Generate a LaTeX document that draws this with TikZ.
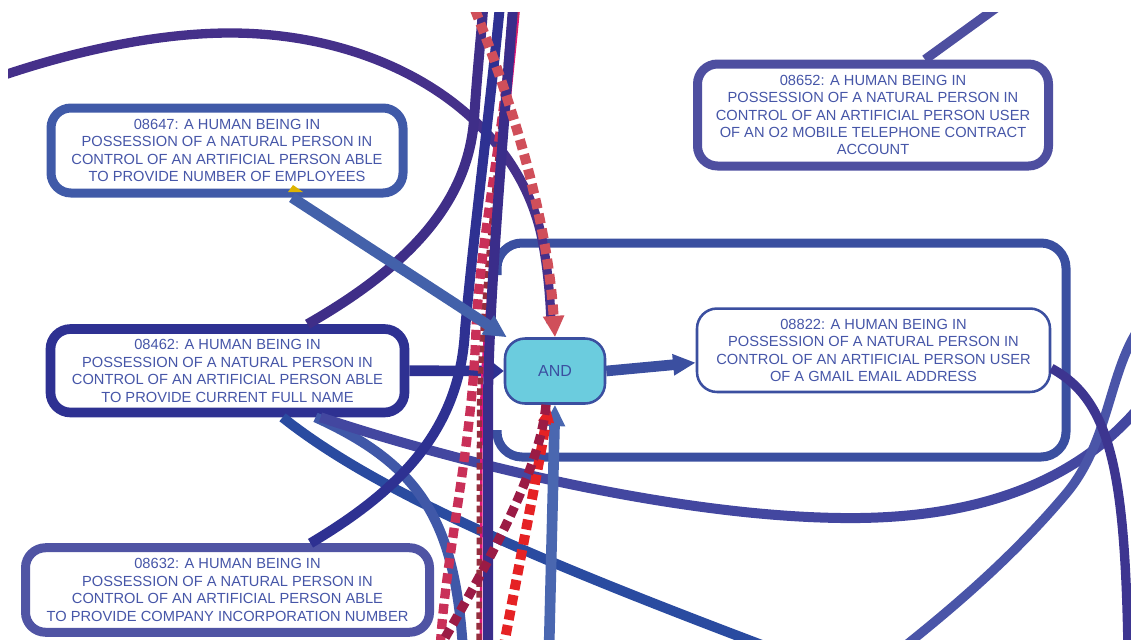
\documentclass[tikz,border=0pt]{standalone}
\usepackage{xcolor}
\usepackage{fontspec}
\setmainfont{Liberation Sans}
\usepackage{tikz}
\usetikzlibrary{arrows.meta,calc}

\begin{document}
\begin{tikzpicture}[x=0.75pt,y=0.75pt,yscale=-1,xscale=1,
  claimbox/.style={draw, fill=white, rounded corners=15pt, line width=6.75pt, inner sep=0pt, align=center,
    text={rgb, 255:red, 70; green, 86; blue, 168}, font=\fontsize{11}{13.1}\selectfont},
  link/.style={line width=7.5pt},
  dashlink/.style={line width=7.5pt, dash pattern={on 7.5pt off 4pt}}]
\useasboundingbox (0,0) rectangle (1131,639);
\clip (8,12) rectangle (1131,639);
%Group frame (open on the left)
\draw [color={rgb, 255:red, 58; green, 79; blue, 160 }, line width=6.75pt, rounded corners=18.75pt] (497,275) |- (1066,243) |- (497,457) -- (497,430) ;
% Claim nodes
\node [claimbox, draw={rgb, 255:red, 64; green, 90; blue, 168 }, minimum width=264pt, minimum height=63.75pt] (n08647) at (227,150.5) {08647: A HUMAN BEING IN\\POSSESSION OF A NATURAL PERSON IN\\CONTROL OF AN ARTIFICIAL PERSON ABLE\\TO PROVIDE NUMBER OF EMPLOYEES};
\node [claimbox, draw={rgb, 255:red, 46; green, 49; blue, 146 }, line width=7.25pt, minimum width=265.5pt, minimum height=62.6pt] (n08462) at (227.5,370.75) {08462: A HUMAN BEING IN\\POSSESSION OF A NATURAL PERSON IN\\CONTROL OF AN ARTIFICIAL PERSON ABLE\\TO PROVIDE CURRENT FULL NAME};
\node [claimbox, draw={rgb, 255:red, 80; green, 84; blue, 164 }, minimum width=303pt, minimum height=63.4pt] (n08632) at (227.5,590) {08632: A HUMAN BEING IN\\POSSESSION OF A NATURAL PERSON IN\\CONTROL OF AN ARTIFICIAL PERSON ABLE\\TO PROVIDE COMPANY INCORPORATION NUMBER};
\node [claimbox, draw={rgb, 255:red, 78; green, 79; blue, 160 }, minimum width=263.25pt, minimum height=76.5pt] (n08652) at (873,115) {08652: A HUMAN BEING IN\\POSSESSION OF A NATURAL PERSON IN\\CONTROL OF AN ARTIFICIAL PERSON USER\\OF AN O2 MOBILE TELEPHONE CONTRACT\\ACCOUNT};
\node [claimbox, draw={rgb, 255:red, 59; green, 79; blue, 160 }, line width=1.9pt, minimum width=264.75pt, minimum height=62.6pt] (n08822) at (873.5,350.25) {08822: A HUMAN BEING IN\\POSSESSION OF A NATURAL PERSON IN\\CONTROL OF AN ARTIFICIAL PERSON USER\\OF A GMAIL EMAIL ADDRESS};
% AND gate
\node [claimbox, fill={rgb, 255:red, 107; green, 204; blue, 222 }, draw={rgb, 255:red, 59; green, 79; blue, 160 }, line width=1.9pt, text={rgb, 255:red, 59; green, 79; blue, 160 }, font=\fontsize{12}{14}\selectfont, minimum width=75pt, minimum height=48.75pt] (and) at (555,371) {AND};
% Free ends at the border
\coordinate (farleft) at (-10,80);
\coordinate (topA) at (484,-5);
\coordinate (topB) at (501,-5);
\coordinate (topC) at (514,-5);
\coordinate (topD) at (469,-5);
\coordinate (topE) at (516,-5);
\coordinate (topF) at (520,-5);
\coordinate (topG) at (512,-5);
\coordinate (topQ) at (1014,-5);
\coordinate (botC) at (488,650);
\coordinate (botE) at (440,650);
\coordinate (botF) at (481,650);
\coordinate (botG) at (479,650);
\coordinate (botI) at (438,650);
\coordinate (botJ) at (549,650);
\coordinate (botK) at (503,650);
\coordinate (botL) at (775,650);
\coordinate (botM) at (463,650);
\coordinate (botO) at (1128,650);
\coordinate (botP) at (900,650);
\coordinate (rightN) at (1145,400);
\coordinate (rightP) at (1145,320);
% Lines out of 08462 bottom
\draw [link, color={rgb, 255:red, 42; green, 75; blue, 160 }] ($(n08462.south)+(55,0)$) .. controls (380,495) and (550,565) .. (botL) ;
\draw [link, color={rgb, 255:red, 64; green, 88; blue, 168 }] ($(n08462.south)+(88,0)$) .. controls (420,465) and (455,520) .. (botM) ;
\draw [link, color={rgb, 255:red, 67; green, 71; blue, 160 }] ($(n08462.south)+(93,0)$) .. controls (480,470) and (700,520) .. (860,518) .. controls (1000,516) and (1090,470) .. (rightN) ;
% Right hand curves
\draw [link, line width=7pt, color={rgb, 255:red, 74; green, 85; blue, 168 }] (rightP) .. controls (1108,365) and (1112,440) .. (1065,495) .. controls (1010,560) and (950,610) .. (botP) ;
\draw [link, line width=7pt, color={rgb, 255:red, 61; green, 53; blue, 144 }] ($(n08822.east)+(0,18)$) .. controls (1110,400) and (1125,470) .. (botO) ;
\draw [link, line width=7pt, color={rgb, 255:red, 78; green, 79; blue, 160 }] ($(n08652.north)+(52,0)$) -- (topQ) ;
% 08462 -> AND
\draw [link, line width=8pt, color={rgb, 255:red, 46; green, 49; blue, 146 }, -{Triangle[length=8pt,width=12pt]}] (n08462.east) -- (and.west) ;
% Big arc from the left
\draw [link, line width=7pt, color={rgb, 255:red, 69; green, 48; blue, 138 }] (farleft) .. controls (60,55) and (150,33) .. (230,33) .. controls (380,33) and (510,110) .. (540,230) .. controls (546,255) and (550,290) .. ($(and.north)+(-4,-14)$) ;
% Bundle through the top
\draw [link, color={rgb, 255:red, 63; green, 46; blue, 136 }] ($(n08462.north)+(80,0)$) .. controls (420,260) and (468,195) .. (474,120) .. controls (478,60) and (482,30) .. (topA) ;
\draw [link, color={rgb, 255:red, 46; green, 49; blue, 146 }] ($(n08632.north)+(83,0)$) .. controls (400,490) and (460,430) .. (465,330) .. controls (474,230) and (491,100) .. (topB) ;
\draw [line width=2pt, color={rgb, 255:red, 224; green, 21; blue, 122 }] (topF) .. controls (506,150) and (484,300) .. (481.5,400) -- (botF) ;
\draw [line width=4pt, dash pattern={on 5pt off 3pt}, color={rgb, 255:red, 150; green, 45; blue, 62 }] (topG) .. controls (500,150) and (482,300) .. (479.5,400) -- (botG) ;
\draw [dashlink, line width=7pt, color={rgb, 255:red, 201; green, 48; blue, 88 }] (topE) .. controls (502,150) and (480,240) .. (476,330) .. controls (472,450) and (446,550) .. (botE) ;
\draw [link, color={rgb, 255:red, 58; green, 45; blue, 138 }] (topC) .. controls (502,150) and (489,300) .. (488,400) -- (botC) ;
% Into AND from above
\draw [dashlink, color={rgb, 255:red, 208; green, 79; blue, 90 }, -{Triangle[length=16pt,width=15pt]}] (topD) .. controls (500,70) and (546,200) .. (and.north) ;
% Into AND from below
\draw [link, line width=8pt, color={rgb, 255:red, 74; green, 103; blue, 176 }, -{Triangle[length=16pt,width=15pt]}] (botJ) -- (and.south) ;
\draw [dashlink, color={rgb, 255:red, 229; green, 34; blue, 36 }, -{Triangle[length=13pt,width=11pt]}] (botK) .. controls (520,560) and (538,470) .. ($(and.south)+(-6,0)$) ;
\draw [dashlink, line width=7pt, color={rgb, 255:red, 155; green, 27; blue, 69 }] ($(and.south)+(-9,0)$) .. controls (540,470) and (490,560) .. (botI) ;
% 08647 -> AND
\draw [link, line width=8pt, color={rgb, 255:red, 67; green, 97; blue, 170 }, -{Triangle[length=17pt,width=16pt]}] ($(n08647.south)+(65,0)$) -- (and.145) ;
\fill [color={rgb, 255:red, 222; green, 180; blue, 0 }] (288,192) -- (303,192) -- (293,185) -- cycle ;
% AND -> 08822
\draw [link, line width=8pt, color={rgb, 255:red, 59; green, 79; blue, 160 }, -{Triangle[length=17pt,width=15pt]}] (and.east) -- (n08822.184) ;
\end{tikzpicture}
\end{document}
